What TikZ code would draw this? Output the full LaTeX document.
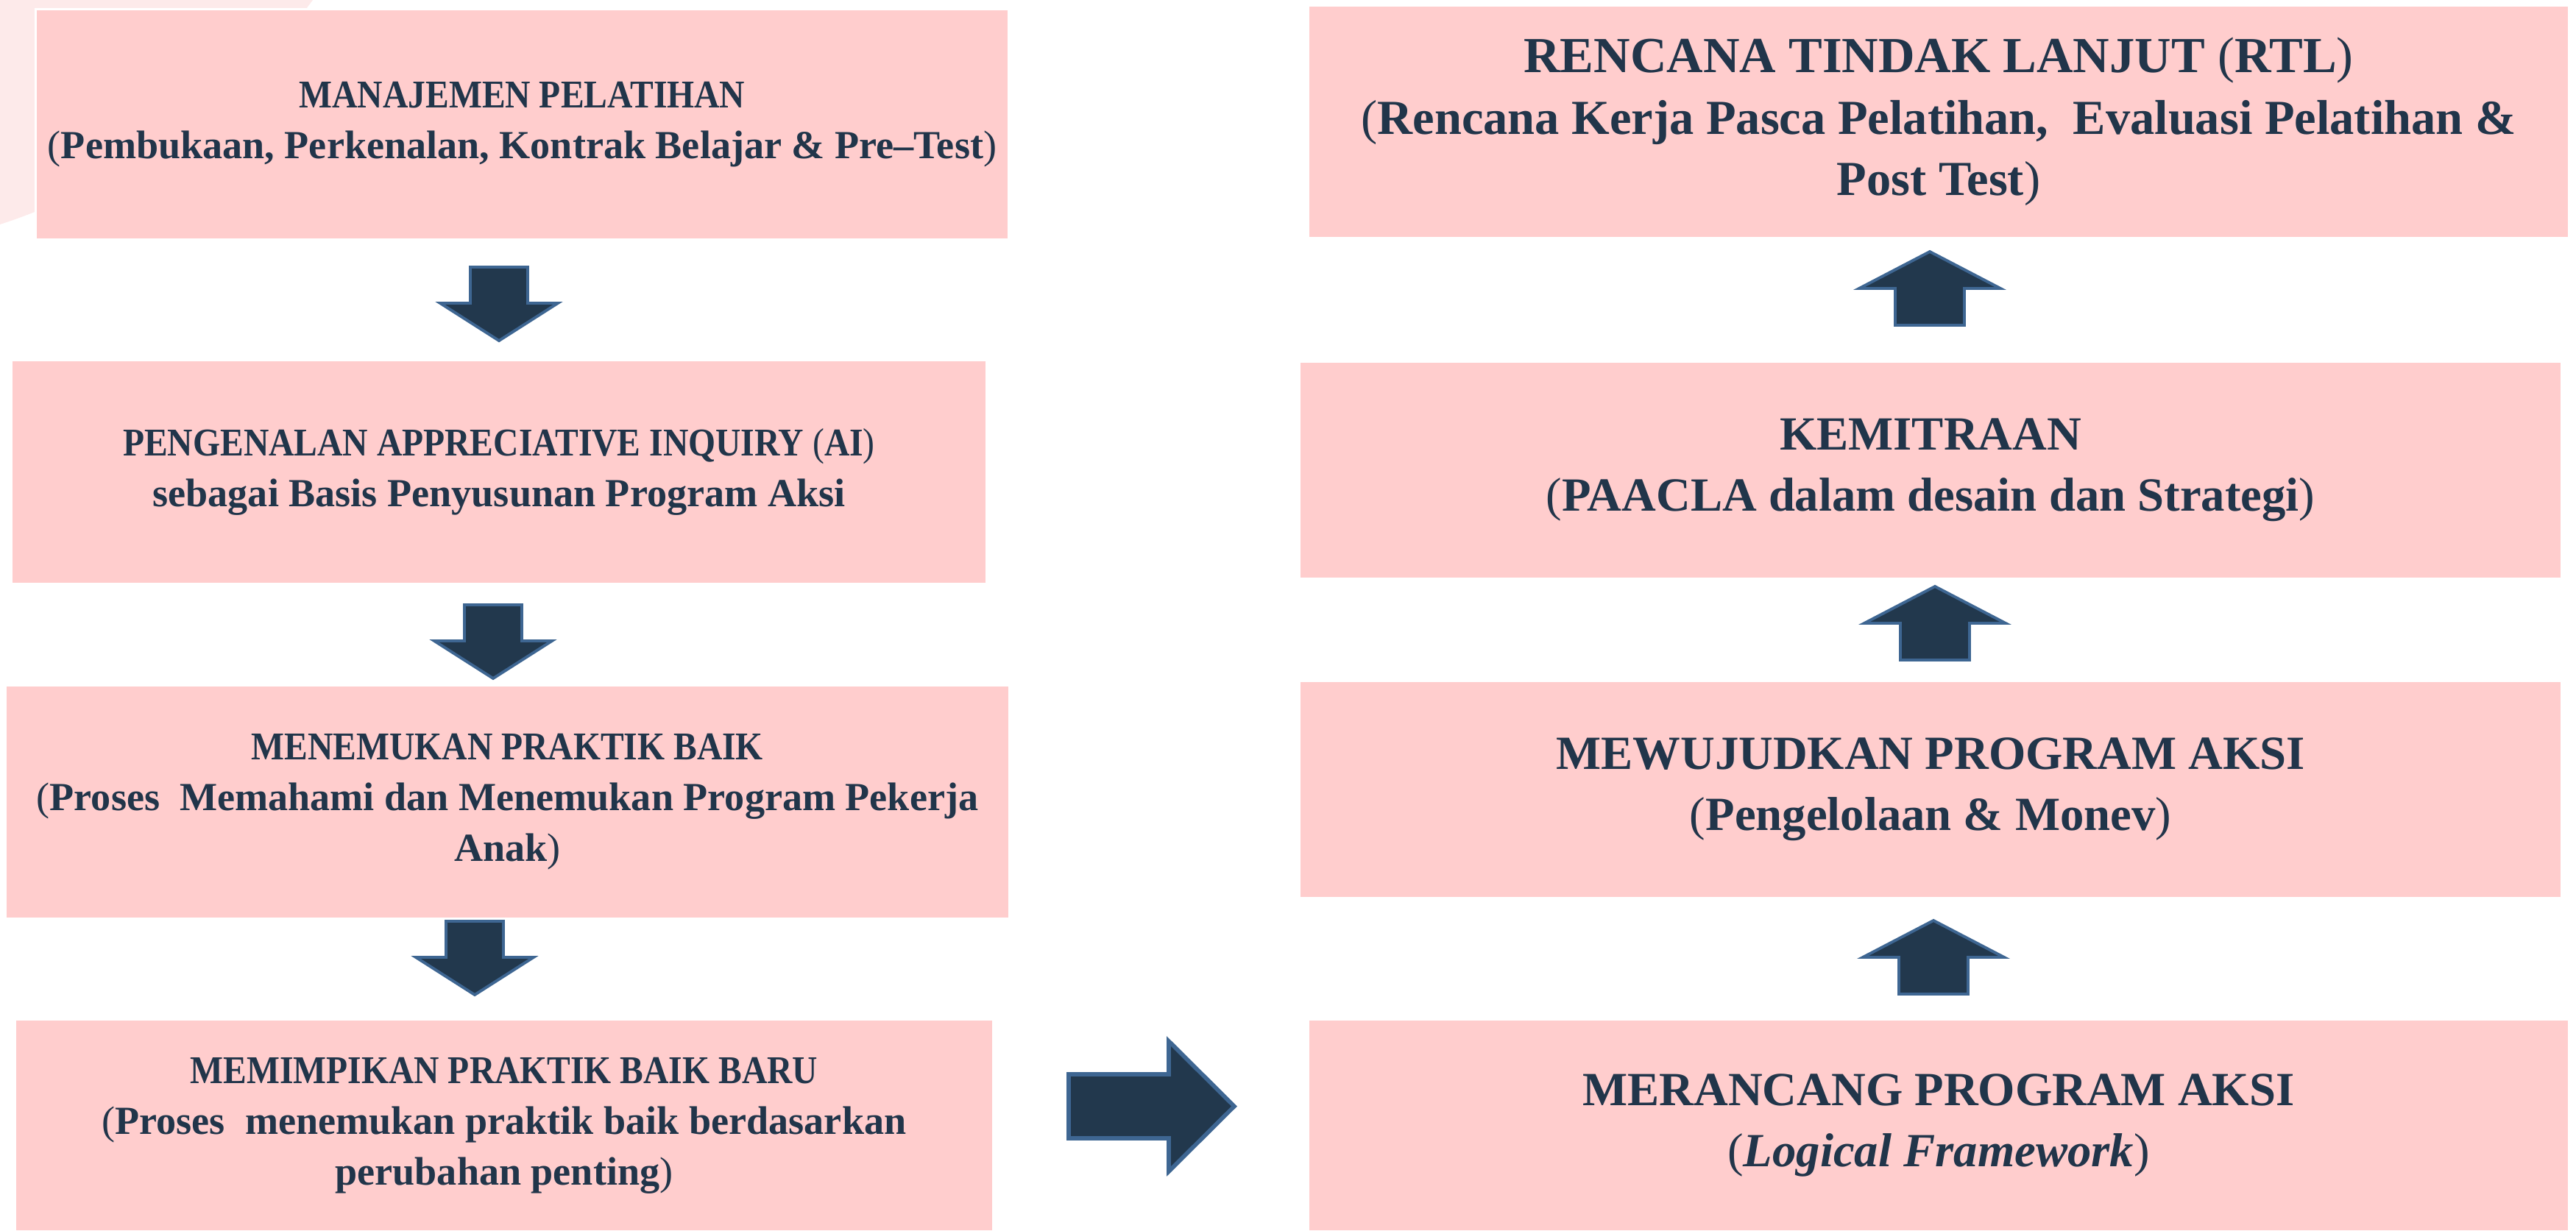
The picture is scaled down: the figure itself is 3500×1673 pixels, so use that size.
\documentclass[tikz,border=0pt]{standalone}
\usepackage{fontspec}
\usepackage{graphicx}
\setmainfont{Liberation Serif}
\definecolor{boxpink}{RGB}{255,205,205}
\definecolor{bgpink}{RGB}{253,234,234}
\definecolor{txt}{RGB}{33,53,74}
\definecolor{arrfill}{RGB}{34,56,77}
\definecolor{arrline}{RGB}{62,102,146}
\newcommand\hd[1]{\scalebox{0.89}[1]{\fontsize{15.2}{19.3}\selectfont #1}}
\newcommand\lpar{{\mdseries(}}
\newcommand\rpar{{\mdseries)}}
\tikzset{
  box/.style={rectangle, fill=boxpink, draw=white, line width=0.8pt, inner sep=0pt, align=center, text=txt},
  lbox/.style={box, font=\bfseries\fontsize{15.4}{19.6}\selectfont},
  rbox/.style={box, font=\bfseries\fontsize{18.4}{23.6}\selectfont},
  blockarrow/.style={fill=arrfill, draw=arrline, line width=1.1pt, line join=miter},
  downarr/.pic={\draw[blockarrow] (-39,0) -- (39,0) -- (39,49) -- (80,49) -- (0,100) -- (-80,49) -- (-39,49) -- cycle;},
  uparr/.pic={\draw[blockarrow] (-47,0) -- (47,0) -- (47,-50) -- (96,-50) -- (0,-100) -- (-96,-50) -- (-47,-50) -- cycle;},
}
\begin{document}
\begin{tikzpicture}[x=0.01cm, y=-0.01cm]
\useasboundingbox (0,0) rectangle (3500,1673);
% background decoration
\fill[bgpink] (0,0) -- (425,0) .. controls (330,130) and (170,250) .. (0,305) -- cycle;
% left column
\node[lbox, minimum width=13.21cm, minimum height=3.12cm] (b1) at (709.5,169)
  {\hd{MANAJEMEN PELATIHAN}\\\lpar Pembukaan, Perkenalan, Kontrak Belajar \& Pre–Test\rpar};
\node[lbox, minimum width=13.24cm, minimum height=3.03cm] (b2) at (678,641.5)
  {\hd{PENGENALAN APPRECIATIVE INQUIRY \lpar AI\rpar}\\sebagai Basis Penyusunan Program Aksi};
\node[lbox, minimum width=13.63cm, minimum height=3.16cm] (b3) at (689.5,1090)
  {\hd{MENEMUKAN PRAKTIK BAIK}\\\lpar Proses\ \ Memahami dan Menemukan Program Pekerja\\Anak\rpar};
\node[lbox, minimum width=13.28cm, minimum height=2.87cm] (b4) at (685,1529.5)
  {\hd{MEMIMPIKAN PRAKTIK BAIK BARU}\\\lpar Proses\ \ menemukan praktik baik berdasarkan\\perubahan penting\rpar};
% right column
\node[rbox, font=\bfseries\fontsize{18.9}{23.8}\selectfont, minimum width=17.12cm, minimum height=3.15cm] (r1) at (2634,165.5)
  {{\fontsize{19.5}{23.8}\selectfont RENCANA TINDAK LANJUT \lpar RTL\rpar}\\\lpar Rencana Kerja Pasca Pelatihan,\ \ Evaluasi Pelatihan \&\\Post Test\rpar};
\node[rbox, minimum width=17.14cm, minimum height=2.94cm] (r2) at (2623,639)
  {KEMITRAAN\\\lpar PAACLA dalam desain dan Strategi\rpar};
\node[rbox, minimum width=17.14cm, minimum height=2.94cm] (r3) at (2623,1073)
  {MEWUJUDKAN PROGRAM AKSI\\\lpar Pengelolaan \& Monev\rpar};
\node[rbox, minimum width=17.12cm, minimum height=2.87cm] (r4) at (2634,1529.5)
  {MERANCANG PROGRAM AKSI\\\lpar\textit{Logical Framework}\rpar};
% block arrows
\pic (a1) at (678,363) {downarr};
\pic (a2) at (670,822) {downarr};
\pic (a3) at (645,1252) {downarr};
\pic (u1) at (2622,442) {uparr};
\pic (u2) at (2629,897) {uparr};
\pic (u3) at (2627,1351) {uparr};
\draw[blockarrow, line width=1.6pt] (1452,1460) -- (1588,1460) -- (1588,1415) -- (1677,1503.5) -- (1588,1592) -- (1588,1547) -- (1452,1547) -- cycle;
\end{tikzpicture}
\end{document}
